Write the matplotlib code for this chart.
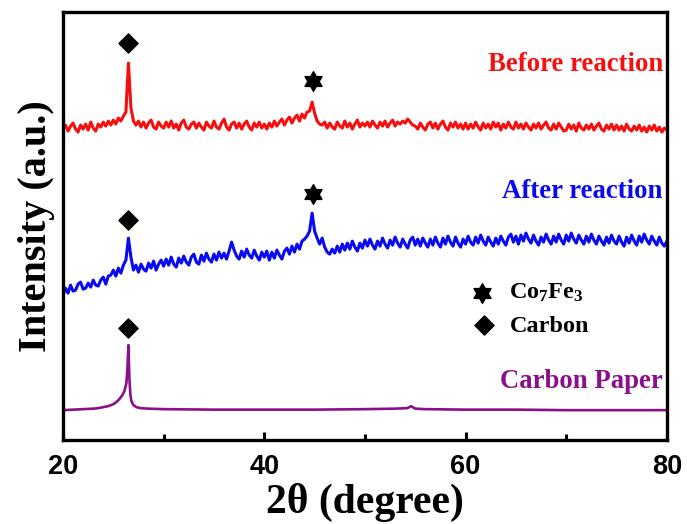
import numpy as np
import matplotlib
matplotlib.use("Agg")
import matplotlib.pyplot as plt
from matplotlib.path import Path

plt.rcParams['mathtext.fontset'] = 'custom'
plt.rcParams['mathtext.rm'] = 'Liberation Serif:bold'
plt.rcParams['mathtext.bf'] = 'Liberation Serif:bold'

# datos (2theta cada 0.25 grados, intensidad en u.a.)
step = 0.25
before = [
    312, 316, 310, 315, 318, 312, 309, 316, 312, 317, 311, 319, 313, 310, 317, 314, 319, 315, 320, 316,
    321, 317, 323, 320, 325, 329, 378, 333, 320, 316, 320, 314, 319, 313, 318, 321, 314, 312, 319, 315,
    313, 319, 314, 320, 313, 317, 311, 318, 321, 314, 312, 317, 319, 313, 318, 314, 311, 319, 315, 313,
    320, 314, 312, 318, 322, 314, 311, 317, 319, 313, 318, 312, 317, 320, 314, 311, 318, 314, 319, 313,
    317, 312, 318, 314, 320, 315, 319, 322, 316, 321, 324, 318, 323, 326, 320, 327, 323, 329, 330, 339,
    328, 320, 317, 316, 319, 313, 318, 314, 312, 319, 315, 313, 320, 314, 318, 312, 317, 321, 314, 318,
    315, 319, 314, 320, 316, 313, 319, 315, 320, 314, 318, 321, 315, 319, 317, 320, 318, 322, 319, 316,
    315, 312, 318, 314, 311, 317, 319, 313, 318, 312, 317, 320, 314, 311, 318, 314, 319, 313, 317, 312,
    318, 312, 317, 313, 319, 314, 311, 318, 313, 317, 312, 319, 314, 318, 311, 317, 313, 319, 314, 312,
    319, 313, 317, 312, 318, 314, 311, 317, 313, 318, 312, 316, 319, 313, 311, 317, 312, 318, 314, 310,
    311, 317, 312, 316, 310, 318, 313, 311, 316, 312, 317, 311, 315, 318, 312, 310, 316, 312, 317, 311,
    316, 311, 315, 310, 317, 312, 310, 315, 311, 316, 310, 314, 309, 315, 311, 316, 310, 314, 309, 313,
    311,
]
after = [
    146, 153, 148, 156, 150, 151, 157, 159, 152, 153, 158, 154, 161, 156, 155, 161, 164, 157, 165, 166,
    171, 165, 173, 168, 176, 181, 203, 184, 171, 176, 169, 177, 172, 170, 178, 173, 180, 171, 177, 181,
    175, 182, 176, 184, 177, 174, 183, 178, 185, 179, 176, 184, 187, 179, 177, 186, 180, 188, 182, 179,
    187, 181, 189, 183, 188, 182, 190, 199, 191, 185, 182, 190, 184, 192, 186, 183, 191, 185, 181, 189,
    184, 190, 181, 189, 183, 191, 186, 182, 190, 193, 187, 195, 189, 197, 192, 200, 202, 205, 210, 228,
    210, 203, 197, 203, 194, 189, 187, 192, 188, 195, 189, 197, 191, 198, 192, 200, 194, 190, 198, 193,
    201, 195, 202, 196, 192, 200, 195, 203, 197, 193, 201, 196, 204, 198, 194, 202, 197, 193, 201, 204,
    196, 202, 195, 203, 198, 194, 202, 196, 204, 198, 194, 203, 197, 205, 199, 195, 204, 198, 194, 202,
    197, 205, 199, 196, 204, 198, 206, 200, 196, 204, 199, 195, 203, 197, 205, 200, 196, 204, 207, 199,
    205, 197, 206, 200, 208, 202, 198, 206, 200, 196, 204, 199, 207, 201, 197, 205, 199, 207, 201, 197,
    206, 200, 208, 202, 198, 206, 201, 197, 205, 199, 207, 201, 197, 205, 200, 196, 204, 198, 206, 200,
    197, 205, 199, 195, 204, 198, 206, 200, 196, 205, 199, 207, 201, 197, 205, 200, 196, 204, 198, 195,
    200,
]
paper_x = [20, 21, 22, 23, 23.5, 24, 24.5, 25, 25.3, 25.6, 25.9, 26.1, 26.3, 26.4, 26.5, 26.6, 26.7,
           26.8, 27.0, 27.3, 27.7, 28.5, 30, 35, 40, 45, 50, 53, 54.2, 54.6, 55.0, 56, 60, 65, 70, 75, 80]
paper_y = [31, 31.5, 32, 32.5, 33, 34, 35, 37, 39, 42, 46, 50, 58, 72, 96, 62, 46,
           40, 36, 34, 33, 32.5, 32, 31.5, 31.5, 31.5, 32, 32.5, 33, 35, 32.5, 32, 31.5, 31.5, 31, 31, 31]

# posiciones de los simbolos de picos
carbon_x = [26.5, 26.5, 26.5]
carbon_y = [398, 221, 113]
cofe_x = [44.8, 44.8]
cofe_y = [360, 247]

red = '#f50f0f'
blue = '#0a0aef'
purple = '#8a108a'

# estrella de seis puntas
ang = np.deg2rad(90 + 30 * np.arange(12))
rad = np.where(np.arange(12) % 2 == 0, 1.0, 0.577)
verts = np.column_stack([rad * np.cos(ang), rad * np.sin(ang)])
verts = np.vstack([verts, verts[:1]])
star = Path(verts, closed=True)

x_before = 20 + step * np.arange(len(before))
x_after = 20 + step * np.arange(len(after))

fig = plt.figure(figsize=(6.87, 5.24), dpi=100)
ax = fig.add_axes([0.0917, 0.160, 0.879, 0.817])

ax.plot(x_before, before, color=red, lw=2.2)
ax.plot(x_after, after, color=blue, lw=2.2)
ax.plot(paper_x, paper_y, color=purple, lw=1.9)

ax.scatter(carbon_x, carbon_y, marker='D', s=95, color='black', zorder=5)
ax.scatter(cofe_x, cofe_y, marker=star, s=200, color='black', zorder=5)

# leyenda manual
ax.scatter([61.6], [148], marker=star, s=200, color='black')
ax.scatter([61.8], [116], marker='D', s=95, color='black')
ax.text(64.3, 149, r'$\mathrm{Co_7Fe_3}$', fontsize=17.5, va='center', ha='left')
ax.text(64.4, 115, 'Carbon', fontsize=17.5, va='center', ha='left',
        family='Liberation Serif', weight='bold')

tfont = dict(family='Liberation Serif', weight='bold', fontsize=19.3, ha='right', va='center')
ax.text(79.6, 377, 'Before reaction', color=red, **tfont)
ax.text(79.6, 250, 'After reaction', color=blue, **tfont)
ax.text(79.6, 60, 'Carbon Paper', color=purple, **tfont)

ax.set_xlim(20, 80)
ax.set_ylim(1, 429)
ax.set_yticks([])
ax.set_xticks([20, 40, 60, 80])
ax.set_xticks([30, 50, 70], minor=True)
ax.tick_params(axis='x', which='major', direction='in', length=6, width=2.2, pad=10)
ax.tick_params(axis='x', which='minor', direction='in', length=4, width=2.2)
for lab in ax.get_xticklabels():
    lab.set_family('Liberation Sans')
    lab.set_fontweight('bold')
    lab.set_fontsize(19.5)
for sp in ax.spines.values():
    sp.set_linewidth(2.4)

ax.set_xlabel('2θ (degree)', family='Liberation Serif', weight='bold', fontsize=30, labelpad=2)
ax.set_ylabel('Intensity (a.u.)', family='Liberation Serif', weight='bold', fontsize=29, labelpad=6)

fig.savefig('out.png', dpi=100)
